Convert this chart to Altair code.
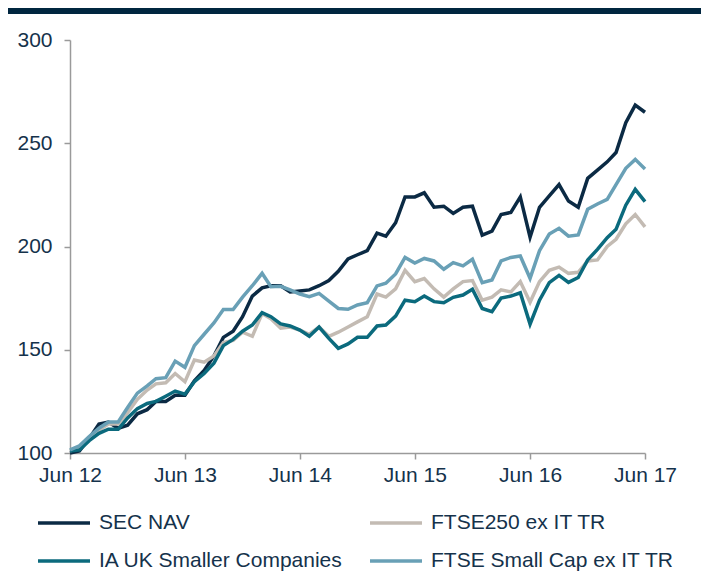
import altair as alt
import pandas as pd

months = pd.date_range("2012-06-01", "2017-06-01", freq="MS").strftime("%Y-%m-%d").tolist()

series_names = ["SEC NAV", "FTSE250 ex IT TR", "IA UK Smaller Companies", "FTSE Small Cap ex IT TR"]
series_colors = ["#0b2a44", "#c3bbb3", "#0b6a7d", "#69a0b6"]

sec_nav = [100, 101, 107, 114, 115, 112, 113.5, 119, 121, 125, 125, 128, 128,
           135, 140, 147, 156, 159, 166, 176, 180, 181, 181, 178, 178.5,
           179, 181, 183.5, 188, 194, 196, 198, 206.5, 205, 211.5, 224, 224,
           226, 219, 219.5, 216, 219, 219.5, 205.5, 207.5, 215.5, 216.5, 224, 204.5,
           219, 224.5, 230, 222, 219, 233, 237, 241, 245.5, 260, 268.5, 265]

ftse250 = [101, 102.5, 107, 111, 114, 114, 119.5, 126, 130.5, 133.5, 134, 138.5, 134.5,
           145, 144, 147, 153.5, 154.5, 158.5, 156.5, 167.5, 165, 160.5, 161, 159.5,
           157.5, 161, 156.5, 158.5, 161, 163.5, 166, 177, 175.5, 179.5, 188.5, 183,
           184.5, 179.5, 175.5, 179.5, 183, 183.5, 174, 175.5, 179, 178, 183, 173,
           183, 188.5, 190, 187, 187.5, 193, 193.5, 200, 203.5, 211, 215.5, 209.5]

ia_uk = [101, 101.5, 106, 109.5, 111.5, 111.5, 117, 121.5, 124, 125, 127.5, 130, 128.5,
         134.5, 138.5, 143.5, 152, 155, 159, 162, 168, 166, 162.5, 161.5, 159.5,
         156.5, 161, 155.5, 150.7, 152.8, 156, 156, 161.5, 162, 166.3, 174, 173.3,
         176, 173.3, 172.8, 175.4, 176.5, 179.3, 170, 168.4, 175, 176, 177.6, 162.4,
         174, 182.5, 186, 182.6, 185, 193.5, 198.6, 204.3, 208.3, 220, 227.7, 221.7]

ftse_small = [101.5, 103.5, 108, 112, 115, 115, 122, 129, 132.5, 136, 136.5, 144.5, 141.5,
              152, 157.5, 163, 169.5, 169.5, 175.5, 181, 187, 180.5, 180.7, 179, 177,
              175.7, 177.3, 173.6, 170, 169.6, 171.7, 172.8, 180.9, 182.2, 186.7, 194.7, 192,
              194.2, 193, 189, 192.2, 190.6, 193.8, 182.5, 183.8, 193, 194.7, 195.4, 184.6,
              198, 206, 208.8, 205, 205.6, 218, 220.6, 222.8, 230, 237.9, 242.2, 237.5]

tick_dates = ["2012-06-01", "2013-06-01", "2014-06-01", "2015-06-01", "2016-06-01", "2017-06-01"]
y_ticks = [100, 150, 200, 250, 300]

rows = []
for name, vals in zip(series_names, [sec_nav, ftse250, ia_uk, ftse_small]):
    for d, v in zip(months, vals):
        rows.append({"date": d, "value": v, "series": name})
df = pd.DataFrame(rows)

FONT = "Liberation Sans, Arial, sans-serif"
TEXT = "#15324b"
AXIS = "#9a9a9a"
W, H = 575, 413

lines = alt.Chart(df).mark_line(strokeWidth=3.5, strokeJoin="miter").encode(
    x=alt.X("date:T",
            scale=alt.Scale(domain=[tick_dates[0], tick_dates[-1]], nice=False),
            axis=alt.Axis(values=tick_dates, format="%b %y", title=None, grid=False,
                          tickSize=6, labelPadding=5, labelFlush=False)),
    y=alt.Y("value:Q",
            scale=alt.Scale(domain=[100, 300], nice=False, zero=False),
            axis=alt.Axis(values=y_ticks, title=None, grid=False, tickSize=6, labelPadding=12)),
    color=alt.Color("series:N",
                    scale=alt.Scale(domain=series_names, range=series_colors),
                    legend=alt.Legend(title=None, orient="none", legendX=-34, legendY=455,
                                      direction="horizontal",
                                      columns=2, symbolType="stroke", symbolSize=2704,
                                      symbolStrokeWidth=3.5, labelFontSize=21, labelFont=FONT,
                                      labelColor=TEXT, labelLimit=400, columnPadding=20,
                                      rowPadding=-2, labelOffset=7)),
)

band = alt.Chart(pd.DataFrame({"a": [0]})).mark_rect(color="#00263f").encode(
    x=alt.value(-62), x2=alt.value(W + 56), y=alt.value(-32), y2=alt.value(-26)
)

chart = alt.layer(band, lines).properties(
    width=W, height=H,
    autosize=alt.AutoSizeParams(type="none"),
    padding={"left": 62, "top": 32, "right": 56, "bottom": 123},
).configure_view(stroke=None).configure_axis(
    domainColor=AXIS, tickColor=AXIS, domainWidth=1.5, tickWidth=1.5,
    labelFont=FONT, labelFontSize=21, labelColor=TEXT
)

chart.save("out.html", embed_options={"renderer": "svg", "actions": False})
